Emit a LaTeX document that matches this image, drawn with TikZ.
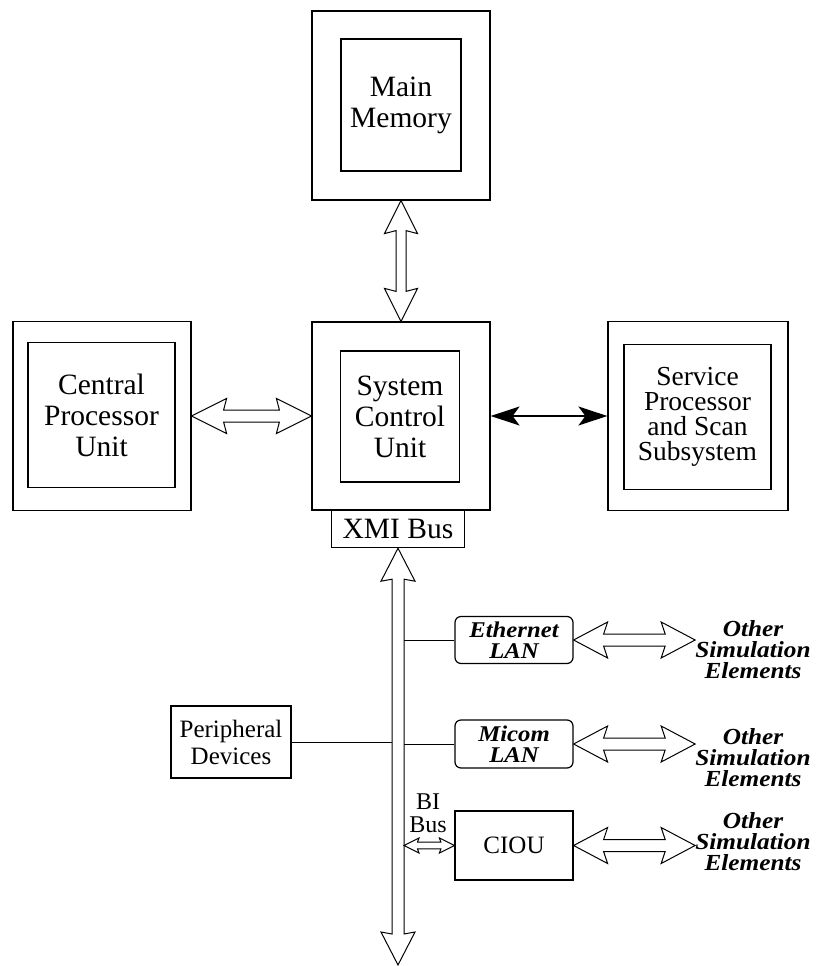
\documentclass[tikz,border=0pt]{standalone}
\usepackage{fontspec}
\setmainfont{Liberation Serif}
\newfontfamily\bifont{Liberation Serif}[FakeStretch=1.1]
\usetikzlibrary{arrows.meta,calc}
\tikzset{
  box/.style={draw, line width=1.2pt, rectangle, inner sep=0pt, align=center},
  lanbox/.style={draw, line width=1.2pt, rectangle, rounded corners=6pt, inner sep=0pt, align=center,
     minimum width=118pt, font=\bifont\fontsize{22.5}{21.5}\selectfont\bfseries\itshape},
  bigtxt/.style={font=\fontsize{29.5}{31}\selectfont},
  sptxt/.style={font=\fontsize{27.5}{25}\selectfont},
  midtxt/.style={font=\fontsize{25}{27}\selectfont},
  othtxt/.style={inner sep=0pt, align=center, font=\bifont\fontsize{23}{21}\selectfont\bfseries\itshape},
  harrow/.style={draw, line width=1pt, fill=white, line join=miter},
  conn/.style={draw, line width=1pt},
}
\newcommand{\dblH}[6]{%
  \path[harrow] let \p1=(#1), \p2=(#2) in
  (\x1,\y1) -- ({\x1+#5},{\y1+#4}) -- ({\x1+#5-#6},{\y1+#3}) -- ({\x2-#5+#6},{\y1+#3})
  -- ({\x2-#5},{\y1+#4}) -- (\x2,\y1) -- ({\x2-#5},{\y1-#4}) -- ({\x2-#5+#6},{\y1-#3})
  -- ({\x1+#5-#6},{\y1-#3}) -- ({\x1+#5},{\y1-#4}) -- cycle;}
\newcommand{\dblV}[6]{%
  \path[harrow] let \p1=(#1), \p2=(#2) in
  (\x1,\y1) -- ({\x1+#4},{\y1-#5}) -- ({\x1+#3},{\y1-#5+#6}) -- ({\x1+#3},{\y2+#5-#6})
  -- ({\x1+#4},{\y2+#5}) -- (\x1,\y2) -- ({\x1-#4},{\y2+#5}) -- ({\x1-#3},{\y2+#5-#6})
  -- ({\x1-#3},{\y1-#5+#6}) -- ({\x1-#4},{\y1-#5}) -- cycle;}
\begin{document}
\begin{tikzpicture}[x=1pt,y=-1pt]
\useasboundingbox (0,0) rectangle (815,966);

% Main memory
\node[box, minimum width=178pt, minimum height=189pt] (mmO) at (401,105.5) {};
\node[box, bigtxt, minimum width=120pt, minimum height=132pt] (mmI) at (401,105) {Main\\Memory};

% System control unit
\node[box, minimum width=178pt, minimum height=188pt] (scuO) at (401,416) {};
\node[box, bigtxt, minimum width=119pt, minimum height=131pt] (scuI) at (400,416.5) {System\\Control\\Unit};
\node[box, bigtxt, minimum width=133pt, minimum height=37pt, anchor=north] (xmi) at (398,510) {XMI Bus};

% CPU
\node[box, minimum width=178pt, minimum height=189pt] (cpuO) at (102,416) {};
\node[box, bigtxt, minimum width=147pt, minimum height=145pt] (cpuI) at (101.5,415) {Central\\Processor\\Unit};

% Service processor
\node[box, minimum width=180pt, minimum height=189pt] (spO) at (698,416) {};
\node[box, sptxt, minimum width=147pt, minimum height=145pt] (spI) at (697.5,417) {Service\\Processor\\and Scan\\Subsystem};

% lower part
\node[box, midtxt, minimum width=120pt, minimum height=72pt] (periph) at (231,742) {Peripheral\\Devices};
\node[lanbox, minimum height=47pt] (eth) at (514,640) {Ethernet\\LAN};
\node[lanbox, minimum height=48pt] (micom) at (514,744) {Micom\\LAN};
\node[box, midtxt, minimum width=118pt, minimum height=69pt] (ciou) at (514,845.5) {CIOU};
\node[othtxt] (oth1) at (753,650) {Other\\Simulation\\Elements};
\node[othtxt] (oth2) at (753,758) {Other\\Simulation\\Elements};
\node[othtxt] (oth3) at (753,842) {Other\\Simulation\\Elements};
\node[align=center, inner sep=0pt, font=\fontsize{24}{23}\selectfont] (bilbl) at (428,813) {BI\\Bus};

\coordinate (busend) at (398,965);
\coordinate (busL) at (392,700);
\coordinate (busR) at (404,700);

% connectors
\dblV{mmO.south}{scuO.north}{5pt}{16.5pt}{33pt}{3pt}
\dblH{cpuO.east}{scuO.west}{6pt}{17.5pt}{35pt}{3pt}
\draw[line width=1.4pt, {Stealth[length=29pt,width=19pt,inset=7pt]}-{Stealth[length=29pt,width=19pt,inset=7pt]}] (scuO.east) -- (spO.west);
\dblV{xmi.south}{busend}{6pt}{17pt}{33pt}{2pt}

\draw[conn] (eth.west) -- (eth.west -| busR);
\draw[conn] (micom.west) -- (micom.west -| busR);
\draw[conn] (periph.east) -- (periph.east -| busL);
\dblH{ciou.west -| busR}{ciou.west}{3.3pt}{7.5pt}{15pt}{1.5pt}

\dblH{eth.east}{eth.east -| oth1.west}{6pt}{18pt}{34pt}{4pt}
\dblH{micom.east}{micom.east -| oth2.west}{6pt}{18pt}{34pt}{4pt}
\dblH{ciou.east}{ciou.east -| oth3.west}{6pt}{18pt}{34pt}{4pt}
\end{tikzpicture}
\end{document}
